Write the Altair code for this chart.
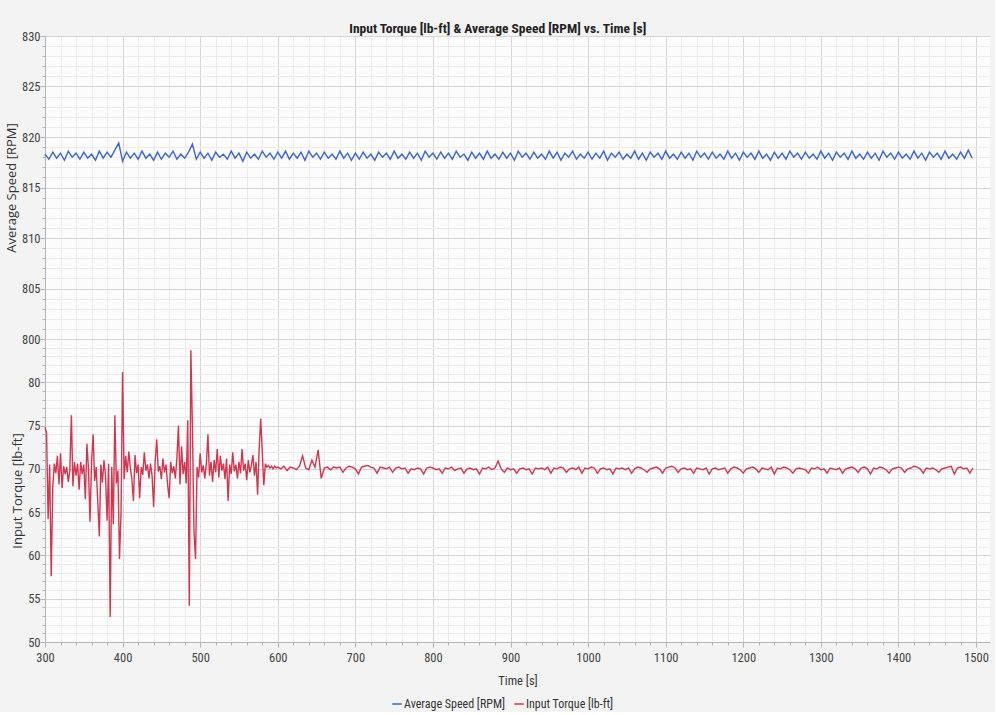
import altair as alt
import pandas as pd

# ---- data -------------------------------------------------------------
SPEED_NAME = "Average Speed [RPM]"
TORQUE_NAME = "Input Torque [lb-ft]"

# average speed, sampled every 5 s from 300 s to 1495 s
speed_time = list(range(300, 1500, 5))
speed_rpm = [
    818.3, 817.8, 818.5, 817.9, 818.4, 817.7, 818.6, 818.0, 818.4, 817.8, 818.5, 817.9, 818.3, 817.7, 818.6, 817.9, 818.5, 818.0, 818.7, 819.4,
    817.6, 818.5, 817.9, 818.4, 817.8, 818.6, 817.9, 818.3, 817.7, 818.5, 817.8, 818.4, 818.0, 818.6, 817.8, 818.3, 817.9, 818.5, 819.3, 817.8,
    818.5, 817.9, 818.4, 817.7, 818.5, 818.0, 818.3, 817.8, 818.6, 817.9, 818.4, 817.6, 818.5, 817.9, 818.3, 817.8, 818.6, 818.0, 818.4, 817.8,
    818.5, 817.9, 818.6, 817.8, 818.4, 817.9, 818.5, 817.7, 818.6, 818.0, 818.4, 817.8, 818.5, 817.9, 818.3, 817.8, 818.6, 817.9, 818.4, 817.7,
    818.4, 817.8, 818.5, 817.9, 818.3, 817.7, 818.5, 818.0, 818.4, 817.8, 818.6, 817.9, 818.3, 817.8, 818.5, 817.9, 818.4, 817.7, 818.6, 818.0,
    818.4, 817.8, 818.5, 817.9, 818.4, 817.8, 818.6, 818.0, 818.3, 817.7, 818.5, 817.9, 818.4, 817.8, 818.6, 817.9, 818.3, 817.8, 818.5, 817.9,
    818.4, 817.7, 818.6, 818.0, 818.4, 817.8, 818.5, 817.9, 818.3, 817.8, 818.6, 817.9, 818.5, 817.7, 818.4, 818.0, 818.6, 817.8, 818.3, 817.9,
    818.5, 817.8, 818.4, 817.9, 818.6, 817.7, 818.4, 818.0, 818.5, 817.8, 818.3, 817.9, 818.6, 817.8, 818.4, 817.7, 818.5, 818.0, 818.4, 817.8,
    818.6, 817.9, 818.3, 817.8, 818.5, 817.9, 818.4, 817.7, 818.6, 818.0, 818.4, 817.8, 818.5, 817.9, 818.3, 817.8, 818.6, 817.9, 818.4, 817.7,
    818.5, 818.0, 818.4, 817.8, 818.6, 817.9, 818.3, 817.7, 818.5, 817.9, 818.4, 817.8, 818.6, 818.0, 818.4, 817.8, 818.5, 817.9, 818.3, 817.8,
    818.6, 817.9, 818.4, 817.7, 818.5, 818.0, 818.4, 817.8, 818.6, 817.9, 818.3, 817.8, 818.5, 817.9, 818.4, 817.7, 818.6, 818.0, 818.4, 817.8,
    818.5, 817.9, 818.3, 817.8, 818.6, 817.9, 818.4, 817.7, 818.5, 818.0, 818.4, 817.8, 818.6, 817.9, 818.3, 817.8, 818.5, 817.9, 818.7, 817.9,
]

# input torque: every 2 s through the unsettled start, every 4 s afterwards
torque_time = list(range(300, 600, 2)) + list(range(600, 1500, 4))
torque_lbft = [
    # 300 - 338 s
    74.8, 74.2, 64.2, 70.5, 57.6, 67.8, 70.6, 69.5, 71.5, 68.2, 71.8, 67.8, 70.3, 69.4, 70.2, 68.5, 69.8, 76.2, 68.0, 70.8,
    # 340 - 378 s
    69.2, 70.6, 67.6, 70.8, 69.4, 70.5, 66.5, 72.9, 70.1, 63.9, 70.8, 74.0, 68.6, 70.2, 66.2, 62.2, 70.5, 68.4, 71.0, 69.2,
    # 380 - 418 s
    64.0, 70.6, 52.9, 70.2, 63.6, 76.2, 68.3, 69.8, 59.6, 64.8, 81.2, 68.8, 71.5, 69.6, 72.0, 70.1, 68.8, 66.3, 71.6, 69.5,
    # 420 - 458 s
    70.5, 66.6, 70.2, 69.3, 71.9, 69.8, 70.5, 68.9, 70.6, 69.2, 65.6, 70.8, 73.4, 69.7, 70.3, 68.8, 71.2, 69.6, 70.5, 68.2,
    # 460 - 498 s
    66.6, 70.8, 69.5, 70.3, 68.9, 71.2, 75.0, 68.2, 72.6, 69.4, 70.8, 68.3, 75.6, 54.2, 83.7, 74.9, 62.8, 59.6, 70.2, 69.0,
    # 500 - 538 s
    71.8, 69.6, 70.4, 68.9, 70.6, 74.0, 69.2, 70.8, 68.5, 71.0, 69.6, 72.3, 69.0, 71.5, 69.8, 70.6, 68.8, 71.2, 66.3, 70.5,
    # 540 - 578 s
    69.4, 71.9, 69.7, 70.5, 68.9, 70.8, 69.5, 72.3, 69.8, 70.6, 68.7, 71.0, 69.6, 70.4, 71.6, 69.2, 70.8, 67.0, 72.2, 75.8,
    # 580 - 598 s
    72.0, 68.1, 70.6, 70.2, 70.4, 70.1, 70.3, 70.0, 70.3, 70.1,
    # 600 - 676 s
    70.2, 70.0, 70.3, 69.8, 70.2, 70.1, 69.9, 70.3, 71.5, 70.1, 69.9, 71.0, 70.2, 72.2, 68.9, 70.1, 70.2, 69.9, 70.2, 70.1,
    # 680 - 756 s
    70.2, 69.6, 70.1, 70.3, 70.2, 70.0, 69.4, 70.2, 70.3, 70.4, 70.2, 70.1, 69.5, 70.2, 70.1, 70.0, 70.2, 69.6, 70.1, 70.2,
    # 760 - 836 s
    70.0, 70.1, 69.5, 70.0, 69.9, 70.1, 70.0, 69.4, 70.1, 70.2, 70.1, 69.9, 70.0, 69.5, 70.1, 70.0, 70.2, 69.8, 70.0, 70.1,
    # 840 - 916 s
    69.5, 70.0, 70.1, 69.9, 70.0, 69.4, 70.1, 70.0, 70.2, 69.9, 70.1, 70.9, 70.0, 69.6, 70.1, 69.9, 70.0, 69.5, 70.0, 70.1,
    # 920 - 996 s
    69.9, 70.0, 69.4, 70.1, 70.0, 70.1, 69.9, 70.2, 69.5, 70.1, 70.0, 70.2, 70.1, 69.6, 70.0, 70.1, 69.9, 70.2, 69.5, 70.1,
    # 1000 - 1076 s
    70.0, 70.2, 70.1, 69.5, 70.0, 70.1, 69.9, 70.0, 69.4, 70.1, 70.0, 70.1, 69.9, 70.1, 69.5, 70.0, 70.2, 70.1, 69.9, 69.6,
    # 1080 - 1156 s
    70.0, 70.1, 70.2, 70.0, 69.5, 70.1, 70.2, 70.3, 70.1, 69.6, 70.0, 70.1, 69.9, 70.0, 69.5, 70.1, 70.0, 69.9, 70.1, 69.4,
    # 1160 - 1236 s
    70.0, 70.1, 69.9, 70.0, 70.1, 69.5, 70.0, 70.2, 70.1, 69.9, 69.5, 70.0, 70.1, 70.2, 70.0, 69.6, 70.1, 70.0, 69.9, 70.2,
    # 1240 - 1316 s
    69.4, 70.1, 70.0, 70.2, 70.1, 69.9, 69.5, 70.0, 70.1, 70.0, 69.9, 69.5, 70.1, 70.0, 70.2, 69.9, 70.0, 69.5, 70.1, 70.0,
    # 1320 - 1396 s
    69.9, 70.1, 69.5, 70.0, 70.1, 70.2, 70.0, 69.6, 70.1, 70.2, 70.0, 69.4, 70.1, 70.0, 70.2, 70.1, 69.9, 69.5, 70.0, 70.1,
    # 1400 - 1476 s
    70.2, 70.1, 69.6, 70.0, 70.1, 70.3, 70.2, 70.0, 69.5, 70.1, 70.0, 70.1, 69.9, 69.6, 70.0, 70.1, 70.2, 70.3, 69.4, 70.1,
    # 1480 - 1496 s
    70.2, 70.0, 70.1, 69.5, 70.1,
]

x_ticks = list(range(300, 1520, 20))
speed_ticks = list(range(800, 831))
torque_ticks = list(range(50, 86))

SERIES = [SPEED_NAME, TORQUE_NAME]
COLORS = ["#3d64d6", "#d3364f"]

speed_df = pd.DataFrame({"time": speed_time, "value": speed_rpm, "series": SPEED_NAME})
torque_df = pd.DataFrame({"time": torque_time, "value": torque_lbft, "series": TORQUE_NAME})

# ---- styling ----------------------------------------------------------
NARROW = "Liberation Sans Narrow, Roboto Condensed, DejaVu Sans Condensed, sans-serif"
PLAIN = "Open Sans, Noto Sans, sans-serif"
W, H = 945, 303

x_scale = alt.Scale(domain=[300, 1518], nice=False, zero=False)
color_scale = alt.Scale(domain=SERIES, range=COLORS)


def grid_color(step):
    return {"condition": {"test": f"datum.value % {step} === 0", "value": "#d6d6d6"},
            "value": "#ececec"}


def tick_size(step):
    return {"condition": {"test": f"datum.value % {step} === 0", "value": 5}, "value": 3}


def panel(df, domain, ticks, title, label_test, show_x):
    if show_x:
        x_axis = alt.Axis(
            values=x_ticks,
            format="d",
            gridColor=grid_color(100),
            tickSize=tick_size(100),
            labelExpr="datum.value % 100 === 0 ? datum.label : ''",
            title="Time [s]",
            labelFlush=False,
            labelOverlap=False,
        )
    else:
        # grid only: no labels, ticks or domain
        x_axis = alt.Axis(
            values=x_ticks,
            gridColor=grid_color(100),
            labels=False,
            ticks=False,
            domain=False,
            title=None,
        )
    y_axis = alt.Axis(
        values=ticks,
        gridColor=grid_color(5),
        tickSize=tick_size(5),
        labelExpr=f"{label_test} ? datum.label : ''",
        labelOverlap=False,
        title=title,
    )
    return alt.Chart(df).mark_line(strokeWidth=1.4).encode(
        x=alt.X("time:Q", scale=x_scale, axis=x_axis),
        y=alt.Y("value:Q", scale=alt.Scale(domain=domain, nice=False, zero=False), axis=y_axis),
        color=alt.Color(
            "series:N",
            scale=color_scale,
            legend=alt.Legend(
                orient="none",
                legendX=346,
                legendY=662,
                direction="horizontal",
                title=None,
                symbolType="stroke",
                symbolStrokeWidth=1.5,
                symbolSize=90,
                symbolOffset=0,
                labelOffset=1,
                labelFont=NARROW,
                labelFontSize=12,
                labelColor="#333333",
                columnPadding=6,
                padding=0,
            ),
        ),
    ).properties(width=W, height=H)


top = panel(speed_df, [800, 830], speed_ticks, SPEED_NAME,
            "datum.value % 5 === 0", False)
bottom = panel(torque_df, [50, 85], torque_ticks, TORQUE_NAME,
               "datum.value % 5 === 0 && datum.value < 85", True)

chart = alt.vconcat(top, bottom, spacing=0, bounds="flush").resolve_scale(
    color="shared"
).properties(
    title=alt.Title(
        "Input Torque [lb-ft] & Average Speed [RPM] vs. Time [s]",
        font=NARROW,
        fontSize=13.5,
        fontWeight="bold",
        color="#222222",
        anchor="middle",
        offset=-5,
    ),
    background="#f3f3f3",
    padding={"left": 5, "top": 21, "right": 5, "bottom": 2},
).configure_view(
    stroke=None,
    fill="#fcfcfc",
).configure_axis(
    labelFont=NARROW,
    labelFontSize=12.5,
    labelColor="#444444",
    titleFont=PLAIN,
    titleFontSize=13,
    titleFontWeight="normal",
    titleColor="#333333",
    domainColor="#b5b5b5",
    tickColor="#b5b5b5",
    gridWidth=1,
).configure_axisX(
    titleFont=NARROW,
    titleFontSize=12.5,
    titlePadding=11,
    labelPadding=4,
).configure_axisY(
    titlePadding=3,
    labelPadding=0,
)

chart.save("out.html", embed_options={"renderer": "svg", "actions": False})
